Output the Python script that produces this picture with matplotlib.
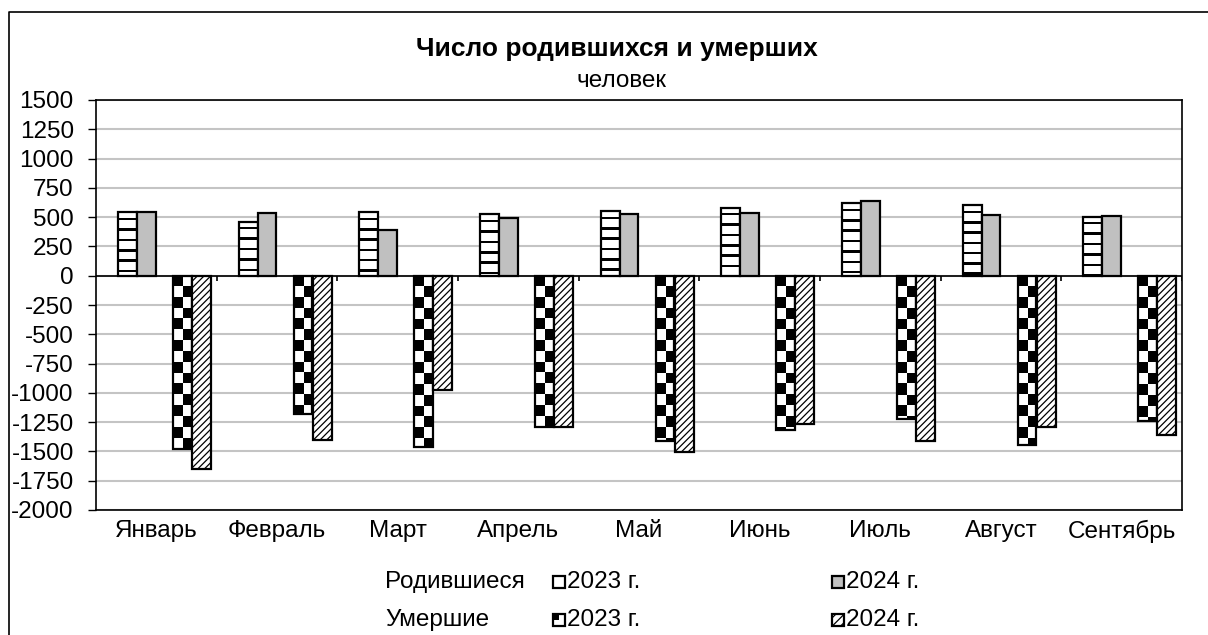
import numpy as np
import matplotlib
matplotlib.use('Agg')
import matplotlib.pyplot as plt
from matplotlib.patches import Rectangle
from matplotlib.lines import Line2D

plt.rcParams['font.family'] = ['Liberation Sans', 'DejaVu Sans']
plt.rcParams['hatch.linewidth'] = 0.9

months = ['Январь', 'Февраль', 'Март', 'Апрель', 'Май', 'Июнь', 'Июль', 'Август', 'Сентябрь']
births_2023 = [540, 461, 546, 524, 552, 581, 618, 606, 504]
births_2024 = [545, 538, 387, 492, 527, 533, 638, 518, 510]
deaths_2023 = [-1479, -1183, -1460, -1295, -1411, -1317, -1223, -1445, -1238]
deaths_2024 = [-1650, -1403, -976, -1295, -1502, -1266, -1411, -1289, -1360]
yticks = list(range(-2000, 1501, 250))

W, H, DPI = 1208, 635, 100
FS = 17.5
fig = plt.figure(figsize=(W / DPI, H / DPI), dpi=DPI)
ax = fig.add_axes([96 / W, 1 - 510 / H, (1182 - 96) / W, (510 - 100) / H])

x = np.arange(len(months))
bw = 0.156
offs = [-0.239, -0.083, 0.216, 0.374]
px_y = 3500 / 410.0      # data units per pixel (vertical)
px_x = 1 / 120.7         # category units per pixel (horizontal)


def stripes(h):
    ys = np.arange(0, h, 2.0)
    col = np.where(((ys + 40) % (10.3 * px_y)) < 2.4 * px_y, 0.0, 1.0)
    return col[:, None]


def checker(h, w):
    ys = np.arange(0, h, 2.0)
    xs = np.linspace(0, w, 60)
    sx, sy = 10 * px_x, 10.8 * px_y
    return (((xs // sx)[None, :] + (ys // sy)[:, None]) % 2).astype(float)


ax.set_axisbelow(True)
ax.yaxis.grid(True, color='#c4c4c4', linewidth=1.5)

edge = dict(edgecolor='black', linewidth=1.6)

# births 2023: horizontal stripes
bars = ax.bar(x + offs[0], births_2023, bw, facecolor='none', zorder=3, **edge)
for b, v in zip(bars, births_2023):
    x0 = b.get_x()
    im = ax.imshow(stripes(v), extent=[x0, x0 + bw, 0, v], aspect='auto',
                   cmap='gray', vmin=0, vmax=1, interpolation='nearest', zorder=2)
    im.set_clip_path(b)

# births 2024: solid gray
ax.bar(x + offs[1], births_2024, bw, facecolor='#c0c0c0', zorder=3, **edge)

# deaths 2023: checkerboard
bars = ax.bar(x + offs[2], deaths_2023, bw, facecolor='none', zorder=3, **edge)
for b, v in zip(bars, deaths_2023):
    x0 = b.get_x()
    im = ax.imshow(checker(-v, bw), extent=[x0, x0 + bw, v, 0], aspect='auto',
                   cmap='gray', vmin=0, vmax=1, interpolation='nearest', zorder=2)
    im.set_clip_path(b)

# deaths 2024: diagonal hatch
ax.bar(x + offs[3], deaths_2024, bw, facecolor='white', hatch='/////', zorder=3, **edge)

ax.axhline(0, color='black', linewidth=1.2, zorder=4)
ax.vlines(x + 0.5, 0, -5.5 * px_y, color='black', linewidth=1.2, zorder=4)

ax.set_xlim(-0.5, len(months) - 0.5)
ax.set_ylim(-2000, 1500)
ax.set_yticks(yticks)
ax.set_yticklabels([str(t) for t in yticks])
ax.set_xticks(x)
ax.set_xticklabels(months)
ax.tick_params(axis='y', length=6, width=1, direction='out', pad=10, labelsize=FS)
ax.tick_params(axis='x', length=0, pad=7, labelsize=FS)
for s in ax.spines.values():
    s.set_color('black')
    s.set_linewidth(1.2)

# titles
fig.text(617 / W, 1 - 49 / H, 'Число родившихся и умерших', ha='center', va='center',
         fontsize=19, fontweight='bold')
fig.text(622 / W, 1 - 81 / H, 'человек', ha='center', va='center', fontsize=FS)

# outer chart frame (left and top edges visible)
fig.add_artist(Line2D([9 / W, 9 / W, 1], [0, 1 - 12 / H, 1 - 12 / H],
                      transform=fig.transFigure, color='black', linewidth=1.2))


def fx(p):
    return p / W


def fy(p):
    return 1 - p / H


# legend
rows = [('Родившиеся', 582), ('Умершие', 620)]
for label, yc in rows:
    fig.text(fx(385), fy(yc), label, ha='left', va='center', fontsize=FS)

ms = 12
legend_items = [
    (553, 582, dict(facecolor='white'), '2023 г.'),
    (832, 582, dict(facecolor='#c0c0c0'), '2024 г.'),
    (553, 620, dict(facecolor='white'), '2023 г.'),
    (832, 620, dict(facecolor='white', hatch='////'), '2024 г.'),
]
for i, (lx, ly, style, txt) in enumerate(legend_items):
    r = Rectangle((fx(lx), fy(ly + ms / 2)), ms / W, ms / H, transform=fig.transFigure,
                  edgecolor='black', linewidth=1.6, **style)
    fig.add_artist(r)
    if i == 2:
        fig.add_artist(Rectangle((fx(lx), fy(ly)), ms / 2 / W, ms / 2 / H,
                                 transform=fig.transFigure, facecolor='black',
                                 edgecolor='none'))
    fig.text(fx(lx + ms + 2), fy(ly), txt, ha='left', va='center', fontsize=FS)

fig.savefig('out.png', dpi=DPI)
